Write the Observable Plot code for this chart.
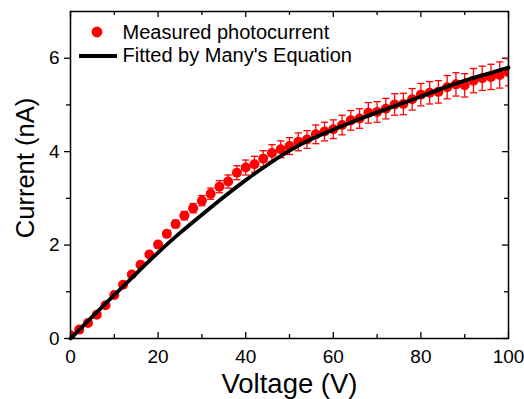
<!DOCTYPE html>
<html>
<head>
<meta charset="utf-8">
<script src="https://cdn.jsdelivr.net/npm/d3@7"></script>
<script src="https://cdn.jsdelivr.net/npm/@observablehq/plot@0.6"></script>
<style>
  html, body { margin: 0; padding: 0; background: white; }
</style>
</head>
<body>
<div id="chart"></div>
<script>
// Measured photocurrent (nA) vs voltage (V)
const voltage = [0,2,4,6,8,10,12,14,16,18,20,22,24,26,28,30,32,34,36,38,40,42,44,46,48,50,52,54,56,58,60,62,64,66,68,70,72,74,76,78,80,82,84,86,88,90,92,94,96,98,100];
const current = [0.07,0.19,0.33,0.51,0.71,0.93,1.15,1.37,1.58,1.80,2.01,2.24,2.45,2.63,2.79,2.95,3.10,3.25,3.36,3.55,3.66,3.73,3.85,3.97,4.05,4.12,4.21,4.26,4.37,4.43,4.48,4.57,4.67,4.71,4.83,4.85,4.92,5.01,5.02,5.12,5.22,5.26,5.28,5.38,5.44,5.42,5.52,5.57,5.60,5.64,5.70];
const currentErr = [0.03,0.03,0.03,0.03,0.04,0.04,0.04,0.05,0.05,0.06,0.06,0.07,0.08,0.09,0.10,0.11,0.12,0.13,0.14,0.15,0.16,0.17,0.17,0.18,0.18,0.18,0.19,0.19,0.20,0.20,0.20,0.21,0.21,0.21,0.22,0.22,0.22,0.23,0.23,0.23,0.24,0.24,0.24,0.25,0.25,0.25,0.26,0.26,0.27,0.28,0.29];

// Fitted curve (Many's equation)
const fitVoltage = [0,5,10,15,20,25,30,35,40,45,50,55,60,65,70,75,80,85,90,95,100];
const fitCurrent = [0,0.47,0.93,1.39,1.84,2.26,2.65,3.03,3.39,3.72,4.02,4.27,4.47,4.66,4.84,5.01,5.18,5.36,5.52,5.66,5.80];

// Ticks and labels
const xMajor = [0,20,40,60,80,100];
const xMinor = [10,30,50,70,90];
const yMajor = [0,2,4,6];
const yMinor = [1,3,5];
const xLabel = ["Voltage (V)"];
const yLabel = ["Current (nA)"];
const legendLabels = ["Measured photocurrent", "Fitted by Many's Equation"];

const measured = voltage.map((v, i) => ({v, i: current[i], lo: current[i] - currentErr[i], hi: current[i] + currentErr[i]}));
const fit = fitVoltage.map((v, i) => ({v, i: fitCurrent[i]}));

const W = 524, H = 399, mL = 70, mR = 16, mT = 11, mB = 61;
const plotW = W - mL - mR, plotH = H - mT - mB;

const cap = {
  draw(ctx, size) {
    const r = Math.sqrt(size / Math.PI);
    ctx.moveTo(-r, 0);
    ctx.lineTo(r, 0);
  }
};

const chart = Plot.plot({
  width: W,
  height: H,
  marginLeft: mL,
  marginRight: mR,
  marginTop: mT,
  marginBottom: mB,
  x: {domain: [0, 100]},
  y: {domain: [0, 7]},
  style: {fontFamily: "'Liberation Sans', Arial, sans-serif", fontSize: "19px", background: "white", color: "black"},
  marks: [
    Plot.axisX(xMajor, {tickSize: 0, tickPadding: 11, label: null, tickFormat: d => d, fontSize: 19}),
    Plot.axisY(yMajor, {tickSize: 6, tickPadding: 5, label: null, tickFormat: d => d, fontSize: 19, strokeWidth: 1.3}),
    Plot.axisY(yMinor, {tickSize: 4, tickPadding: 5, label: null, tickFormat: () => "", strokeWidth: 1.3}),
    // inward ticks on bottom and top
    Plot.tickX(xMajor, {x: d => d, insetTop: plotH - 6, stroke: "black", strokeWidth: 1.3}),
    Plot.tickX(xMinor, {x: d => d, insetTop: plotH - 4, stroke: "black", strokeWidth: 1.3}),
    Plot.tickX(xMajor, {x: d => d, insetBottom: plotH - 6, stroke: "black", strokeWidth: 1.3}),
    Plot.tickX(xMinor, {x: d => d, insetBottom: plotH - 4, stroke: "black", strokeWidth: 1.3}),
    // inward ticks on right
    Plot.tickY(yMajor, {y: d => d, insetLeft: plotW - 6, stroke: "black", strokeWidth: 1.3}),
    Plot.tickY(yMinor, {y: d => d, insetLeft: plotW - 4, stroke: "black", strokeWidth: 1.3}),
    // error bars
    Plot.ruleX(measured, {x: "v", y1: "lo", y2: "hi", stroke: "#ff0000", strokeWidth: 1.3, clip: true}),
    Plot.dot(measured, {x: "v", y: "lo", symbol: cap, r: 3.6, stroke: "#ff0000", fill: "none", strokeWidth: 1.3, clip: true}),
    Plot.dot(measured, {x: "v", y: "hi", symbol: cap, r: 3.6, stroke: "#ff0000", fill: "none", strokeWidth: 1.3, clip: true}),
    // points
    Plot.dot(measured, {x: "v", y: "i", r: 5, fill: "#ff0000", clip: true}),
    // fitted line
    Plot.line(fit, {x: "v", y: "i", stroke: "black", strokeWidth: 3.8, curve: "natural"}),
    Plot.frame({stroke: "black", strokeWidth: 1.5}),
    // axis titles
    Plot.text(xLabel, {text: d => d, frameAnchor: "bottom", lineAnchor: "middle", textAnchor: "middle", dy: 46, fontSize: 27.5, fill: "black"}),
    Plot.text(yLabel, {text: d => d, frameAnchor: "left", lineAnchor: "middle", textAnchor: "middle", dx: -45, dy: -7, rotate: -90, fontSize: 25.5, fill: "black"}),
    // legend labels
    Plot.text([legendLabels[0]], {text: d => d, frameAnchor: "top-left", lineAnchor: "top", dx: 52, dy: 13.5, textAnchor: "start", fontSize: 20, fill: "black"}),
    Plot.text([legendLabels[1]], {text: d => d, frameAnchor: "top-left", lineAnchor: "top", dx: 52, dy: 36.5, textAnchor: "start", fontSize: 20, fill: "black"})
  ]
});

// legend swatches
const svg = d3.select(chart);
svg.append("circle").attr("cx", 97).attr("cy", 32).attr("r", 5.4).attr("fill", "#ff0000");
svg.append("line").attr("x1", 79).attr("x2", 117).attr("y1", 56).attr("y2", 56).attr("stroke", "black").attr("stroke-width", 3.8);

document.getElementById("chart").appendChild(chart);
</script>
</body>
</html>
